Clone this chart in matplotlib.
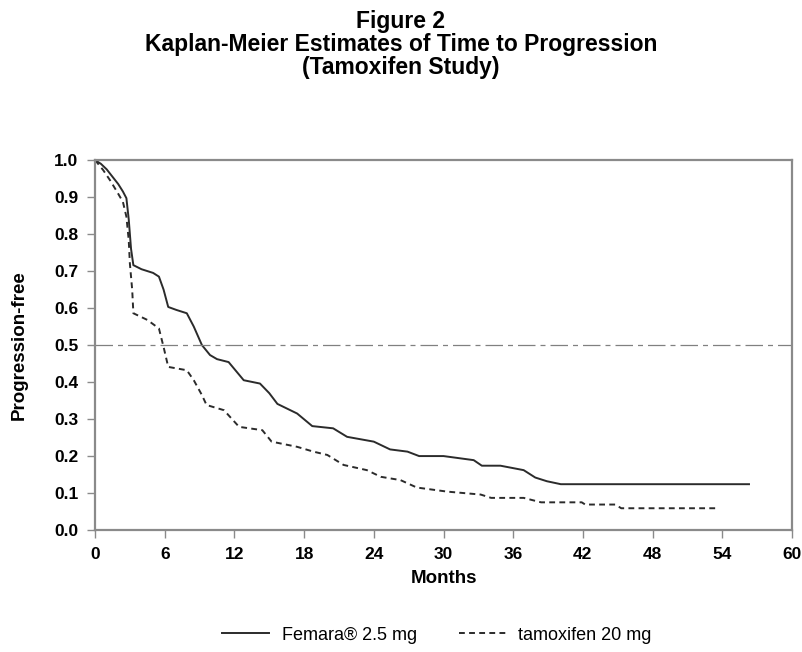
import numpy as np
import matplotlib
matplotlib.use('Agg')
import matplotlib.pyplot as plt


# Kaplan-Meier curves (months, fraction progression-free)
femara_t = [0, 0.5, 1.0, 1.5, 2.0, 2.4, 2.7, 2.9, 3.1, 3.3, 4.0, 5.0, 5.5, 5.9, 6.3,
            7.0, 7.9, 8.5, 9.2, 9.9, 10.5, 11.5, 12.8, 14.2, 15.0, 15.7, 17.4, 18.7,
            20.5, 21.7, 24.0, 25.4, 26.9, 27.9, 30.0, 32.6, 33.3, 34.9, 36.9, 37.9,
            38.9, 40.1, 56.3]
femara_s = [1.0, 0.99, 0.975, 0.955, 0.935, 0.915, 0.897, 0.84, 0.76, 0.716, 0.705, 0.695,
            0.685, 0.65, 0.603, 0.595, 0.586, 0.55, 0.5, 0.473, 0.462, 0.454, 0.405, 0.396,
            0.37, 0.341, 0.315, 0.281, 0.275, 0.252, 0.239, 0.218, 0.212, 0.2, 0.2, 0.189,
            0.174, 0.174, 0.162, 0.142, 0.132, 0.124, 0.124]

tamox_t = [0, 0.7, 1.3, 1.9, 2.4, 2.7, 2.9, 3.0, 3.2, 3.3, 4.5, 5.5, 5.9, 6.3, 7.9, 8.5,
           9.2, 9.6, 11.1, 12.4, 14.4, 15.2, 17.4, 18.8, 20.0, 21.4, 23.4, 24.6, 26.3,
           27.7, 30.3, 33.2, 34.1, 36.9, 38.4, 41.9, 42.2, 44.8, 45.3, 53.4]
tamox_s = [1.0, 0.973, 0.945, 0.914, 0.887, 0.847, 0.784, 0.72, 0.649, 0.586, 0.568, 0.545,
           0.495, 0.441, 0.432, 0.405, 0.365, 0.338, 0.324, 0.279, 0.27, 0.239, 0.225,
           0.212, 0.203, 0.176, 0.162, 0.144, 0.135, 0.115, 0.104, 0.096, 0.087, 0.087,
           0.075, 0.075, 0.069, 0.069, 0.059, 0.059]

xticks = list(range(0, 61, 6))
yticks = np.round(np.arange(0, 1.01, 0.1), 1)

sans = ['Liberation Sans', 'DejaVu Sans']
gray = '#8a8a8a'

fig = plt.figure(figsize=(8.02, 6.52), dpi=100)
ax = fig.add_axes([0.1185, 0.187, 0.869, 0.5675])

ax.plot(femara_t, femara_s, color='#2b2b2b', lw=1.4, label='Femara® 2.5 mg')
ax.plot(tamox_t, tamox_s, color='#2b2b2b', lw=1.4, linestyle=(0, (3, 2.2)),
        label='tamoxifen 20 mg')
ax.axhline(0.5, color='#808080', lw=0.9, linestyle=(0, (14, 4, 4, 4)))

ax.set_xlim(0, 60)
ax.set_ylim(0, 1.0)
ax.set_xticks(xticks)
ax.set_yticks(yticks)
ax.set_yticklabels([f'{v:.1f}' for v in yticks])

for s in ax.spines.values():
    s.set_color(gray)
    s.set_linewidth(1.6)
ax.tick_params(direction='out', length=6, width=1.0, color=gray, pad=6)
for lab in ax.get_xticklabels() + ax.get_yticklabels():
    lab.set_family(sans)
    lab.set_fontweight('bold')
    lab.set_fontsize(12.5)

ax.set_xlabel('Months', family=sans, fontweight='bold', fontsize=13.5, labelpad=6)
ax.set_ylabel('Progression-free', family=sans, fontweight='bold', fontsize=13.5, labelpad=19)

fig.text(0.5, 0.985, 'Figure 2\nKaplan-Meier Estimates of Time to Progression\n(Tamoxifen Study)',
         ha='center', va='top', family=sans,
         fontweight='bold', fontsize=16.5, linespacing=1.0)

fig.legend(loc='lower center', bbox_to_anchor=(0.545, -0.012), ncol=2, frameon=False,
           prop={'family': sans, 'size': 13}, handlelength=2.6, handletextpad=0.7,
           columnspacing=2.3)

fig.savefig('out.png', dpi=100)
